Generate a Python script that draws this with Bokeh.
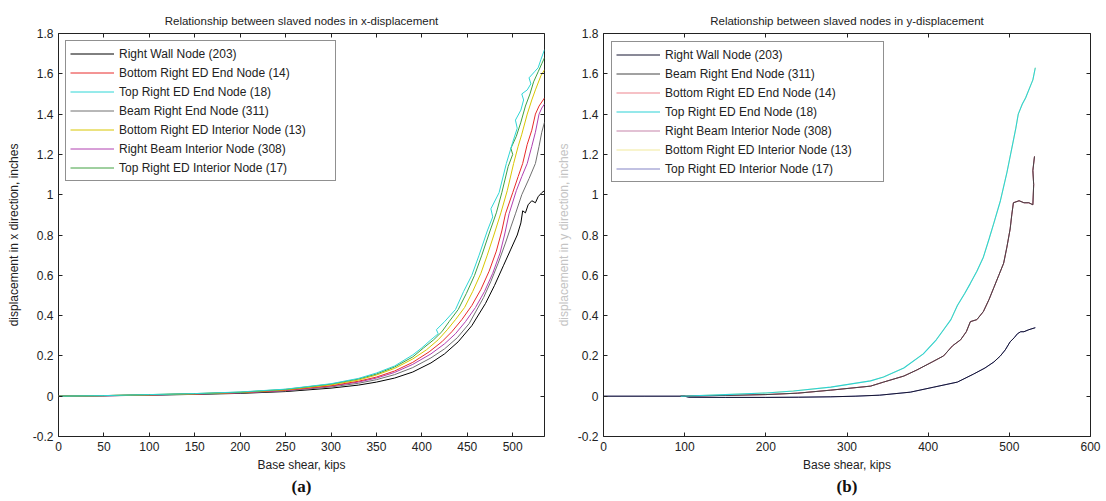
from bokeh.plotting import figure
from bokeh.layouts import row
from bokeh.models import (Range1d, LinearAxis, FixedTicker, CustomJSTickFormatter,
                          Legend, LegendItem, Title)
from bokeh.embed import file_html
from bokeh.resources import INLINE

# ---------------- data: x-displacement (a) ----------------
XD_203_X = [0, 50, 100, 150, 200, 250, 300, 330, 350, 370, 390, 410, 425, 440, 455, 470, 480, 490, 498, 505, 509, 511, 514, 517, 521, 525, 528, 532, 535]
XD_203_Y = [0, 0.002, 0.005, 0.009, 0.014, 0.023, 0.04, 0.055, 0.07, 0.09, 0.12, 0.165, 0.21, 0.27, 0.35, 0.46, 0.55, 0.65, 0.73, 0.80, 0.86, 0.92, 0.91, 0.95, 0.97, 0.96, 0.99, 1.01, 1.02]

XD_14_X = [0, 50, 100, 150, 200, 250, 300, 330, 350, 370, 390, 408, 422, 433, 444, 455, 465, 474, 482, 488, 492, 500, 506, 511, 516, 521, 525, 529, 532, 535]
XD_14_Y = [0, 0.003, 0.007, 0.011, 0.018, 0.03, 0.052, 0.074, 0.095, 0.125, 0.168, 0.22, 0.27, 0.32, 0.38, 0.45, 0.53, 0.62, 0.72, 0.82, 0.905, 1.01, 1.09, 1.155, 1.25, 1.32, 1.40, 1.44, 1.46, 1.48]

XD_18_X = [0, 50, 100, 150, 200, 250, 300, 330, 350, 370, 390, 400, 410, 418, 416, 425, 437, 446, 455, 463, 472, 478, 476, 485, 493, 500, 505, 503, 509, 512, 510, 516, 520, 518, 524, 528, 531, 535]
XD_18_Y = [0, 0.003, 0.008, 0.013, 0.021, 0.035, 0.062, 0.088, 0.115, 0.15, 0.205, 0.24, 0.28, 0.31, 0.33, 0.37, 0.43, 0.52, 0.60, 0.70, 0.82, 0.89, 0.93, 1.01, 1.155, 1.26, 1.33, 1.37, 1.42, 1.47, 1.50, 1.52, 1.55, 1.58, 1.61, 1.63, 1.67, 1.72]

XD_311_X = [0, 50, 100, 150, 200, 250, 300, 330, 350, 370, 390, 410, 425, 439, 452, 468, 476, 484, 492, 498, 503, 510, 518, 525, 529, 532, 535]
XD_311_Y = [0, 0.002, 0.006, 0.01, 0.016, 0.026, 0.046, 0.064, 0.082, 0.107, 0.142, 0.19, 0.235, 0.29, 0.36, 0.49, 0.57, 0.66, 0.76, 0.84, 0.905, 1.0, 1.08, 1.155, 1.24, 1.31, 1.36]

XD_13_X = [0, 50, 100, 150, 200, 250, 300, 330, 350, 370, 390, 405, 418, 428, 437, 447, 456, 465, 472, 480, 487, 494, 501, 506, 510, 516, 521, 525, 531, 535]
XD_13_Y = [0, 0.003, 0.007, 0.012, 0.019, 0.032, 0.056, 0.08, 0.105, 0.138, 0.185, 0.23, 0.28, 0.33, 0.38, 0.44, 0.52, 0.61, 0.70, 0.81, 0.91, 1.02, 1.155, 1.24, 1.30, 1.40, 1.47, 1.52, 1.59, 1.62]

XD_308_X = [0, 50, 100, 150, 200, 250, 300, 330, 350, 370, 390, 410, 425, 437, 448, 459, 469, 478, 486, 491, 496, 504, 510, 516, 521, 525, 529, 532, 535]
XD_308_Y = [0, 0.002, 0.006, 0.011, 0.017, 0.028, 0.05, 0.07, 0.09, 0.118, 0.158, 0.21, 0.26, 0.31, 0.37, 0.44, 0.52, 0.61, 0.71, 0.80, 0.905, 1.02, 1.09, 1.155, 1.24, 1.31, 1.40, 1.43, 1.45]

XD_17_X = [0, 50, 100, 150, 200, 250, 300, 330, 350, 370, 390, 402, 413, 422, 430, 440, 449, 458, 466, 475, 482, 488, 495, 500, 498, 504, 509, 514, 519, 523, 528, 532, 535]
XD_17_Y = [0, 0.003, 0.008, 0.013, 0.02, 0.034, 0.06, 0.085, 0.11, 0.145, 0.195, 0.24, 0.28, 0.32, 0.37, 0.43, 0.51, 0.60, 0.70, 0.82, 0.91, 1.01, 1.14, 1.20, 1.23, 1.29, 1.36, 1.44, 1.50, 1.56, 1.61, 1.65, 1.68]

# ---------------- data: y-displacement (b) ----------------
YD_203_X = [0, 50, 100, 105, 150, 200, 240, 280, 310, 340, 378, 407, 436, 456, 470, 481, 489, 495, 501, 506, 510, 514, 518, 524, 532]
YD_203_Y = [0, 0, 0, -0.005, -0.006, -0.006, -0.005, -0.003, 0, 0.005, 0.02, 0.045, 0.07, 0.11, 0.14, 0.17, 0.20, 0.23, 0.27, 0.29, 0.31, 0.32, 0.32, 0.33, 0.34]

YD_311_X = [95, 150, 200, 239, 280, 329, 345, 370, 386, 405, 419, 430, 440, 447, 452, 460, 468, 475, 481, 487, 493, 497, 501, 503, 505, 512, 518, 524, 529, 530, 529, 531]
YD_311_Y = [0, 0.004, 0.008, 0.015, 0.03, 0.05, 0.07, 0.10, 0.13, 0.17, 0.20, 0.25, 0.28, 0.32, 0.37, 0.38, 0.42, 0.48, 0.54, 0.60, 0.66, 0.74, 0.83, 0.90, 0.96, 0.97, 0.96, 0.96, 0.95, 1.05, 1.12, 1.19]

YD_18_X = [95, 150, 200, 234, 280, 329, 345, 370, 394, 410, 419, 428, 436, 445, 452, 460, 468, 475, 481, 489, 497, 505, 508, 511, 516, 520, 526, 529, 532]
YD_18_Y = [0, 0.008, 0.016, 0.026, 0.045, 0.076, 0.095, 0.14, 0.21, 0.28, 0.33, 0.38, 0.45, 0.51, 0.56, 0.62, 0.69, 0.78, 0.86, 0.97, 1.11, 1.27, 1.33, 1.40, 1.45, 1.48, 1.54, 1.57, 1.63]

# ---------------- labels / ticks ----------------
LEFT_NAMES = ["Right Wall Node (203)", "Bottom Right ED End Node (14)", "Top Right ED End Node (18)",
              "Beam Right End Node (311)", "Bottom Right ED Interior Node (13)",
              "Right Beam Interior Node (308)", "Top Right ED Interior Node (17)"]
RIGHT_NAMES = ["Right Wall Node (203)", "Beam Right End Node (311)", "Bottom Right ED End Node (14)",
               "Top Right ED End Node (18)", "Right Beam Interior Node (308)",
               "Bottom Right ED Interior Node (13)", "Top Right ED Interior Node (17)"]
Y_TICKS = [-0.2, 0, 0.2, 0.4, 0.6, 0.8, 1.0, 1.2, 1.4, 1.6, 1.8]
XA_TICKS = [0, 50, 100, 150, 200, 250, 300, 350, 400, 450, 500]
XB_TICKS = [0, 100, 200, 300, 400, 500, 600]

FONT = "Liberation Sans"
TXT = "#222222"


def make_fig(width, bl, br, bb, title, ylabel, xmax, xticks, ylab_color, ylab_standoff, caption):
    p = figure(width=width, height=501, output_backend="svg", toolbar_location=None,
               x_range=Range1d(0, xmax), y_range=Range1d(-0.2, 1.8),
               min_border_left=bl, min_border_right=br, min_border_top=33, min_border_bottom=bb)
    p.title.text = title
    p.title.align = "center"
    p.title.text_font = FONT
    p.title.text_font_size = "11.5px"
    p.title.text_font_style = "normal"
    p.title.text_color = TXT
    p.title.standoff = 14
    p.grid.visible = False
    p.outline_line_color = "#222222"
    p.outline_line_width = 1
    p.background_fill_color = "white"
    p.border_fill_color = "white"

    yfmt = CustomJSTickFormatter(code="return String(Math.round(tick*10)/10)")
    p.xaxis.ticker = FixedTicker(ticks=xticks)
    p.yaxis.ticker = FixedTicker(ticks=Y_TICKS)
    p.yaxis.formatter = yfmt
    for ax in (p.xaxis[0], p.yaxis[0]):
        ax.major_tick_in = 4
        ax.major_tick_out = 0
        ax.minor_tick_in = 0
        ax.minor_tick_out = 0
        ax.axis_line_color = None
        ax.major_tick_line_color = "#222222"
        ax.major_label_text_font = FONT
        ax.major_label_text_font_size = "12px"
        ax.major_label_text_color = TXT
        ax.axis_label_text_font = FONT
        ax.axis_label_text_font_size = "12px"
        ax.axis_label_text_font_style = "normal"
        ax.axis_label_text_color = TXT
        ax.major_label_standoff = 5
    p.xaxis.axis_label = "Base shear, kips"
    p.xaxis.axis_label_standoff = 4
    p.yaxis.axis_label = ylabel
    p.yaxis.axis_label_standoff = ylab_standoff
    p.yaxis.axis_label_text_color = ylab_color

    # tick marks only (no labels) on the top and right edges of the box
    for loc, tk in (("above", xticks), ("right", Y_TICKS)):
        ax = LinearAxis(ticker=FixedTicker(ticks=tk), major_label_text_font_size="0px",
                        major_label_text_color=None,
                        major_tick_in=4, major_tick_out=0, minor_tick_in=0, minor_tick_out=0,
                        axis_line_color=None, major_label_standoff=0,
                        major_tick_line_color="#222222")
        p.add_layout(ax, loc)
    p.add_layout(Title(text=caption, align="center", text_font="Liberation Serif",
                       text_font_size="17px", text_font_style="bold", text_color="#111111",
                       standoff=0), "below")
    return p


def style_legend(leg, label_width, margin):
    leg.location = "top_left"
    leg.margin = margin
    leg.border_line_color = "#222222"
    leg.border_line_width = 1
    leg.background_fill_color = "white"
    leg.background_fill_alpha = 1
    leg.label_text_font = FONT
    leg.label_text_font_size = "12px"
    leg.label_text_color = TXT
    leg.glyph_width = 44
    leg.glyph_height = 17
    leg.label_height = 17
    leg.label_width = label_width
    leg.label_standoff = 5
    leg.spacing = 2
    leg.padding = 4


# ---------------- panel (a) ----------------
pa = make_fig(553, 58, 9, 65, "Relationship between slaved nodes in x-displacement",
              "displacement in x direction, inches", 535, XA_TICKS, TXT, 9, "(a)")
left_series = [
    (XD_203_X, XD_203_Y, "#000000"),
    (XD_14_X, XD_14_Y, "#e82a2a"),
    (XD_18_X, XD_18_Y, "#2ed6d6"),
    (XD_311_X, XD_311_Y, "#707070"),
    (XD_13_X, XD_13_Y, "#d8c600"),
    (XD_308_X, XD_308_Y, "#b040b0"),
    (XD_17_X, XD_17_Y, "#40a040"),
]
draw_order = [0, 3, 5, 1, 4, 6, 2]
rend_a = [None] * 7
for i in draw_order:
    xs, ys, c = left_series[i]
    rend_a[i] = pa.line(xs, ys, line_color=c, line_width=1)
leg_a = Legend(items=[LegendItem(label=LEFT_NAMES[i], renderers=[rend_a[i]]) for i in range(7)])
style_legend(leg_a, 212, 7)
pa.add_layout(leg_a)

# ---------------- panel (b) ----------------
pb = make_fig(553, 50, 16, 63, "Relationship between slaved nodes in y-displacement",
              "displacement in y direction, inches", 600, XB_TICKS, "#c4c4c4", 4, "(b)")
# series that coincide with the visible curves in the figure are drawn first, thin
r14 = pb.line(YD_311_X, YD_311_Y, line_color="#e03040", line_width=0.6)
r308 = pb.line(YD_311_X, YD_311_Y, line_color="#a03070", line_width=0.6)
r17 = pb.line(YD_203_X, YD_203_Y, line_color="#3030a0", line_width=0.6)
r13 = pb.line(YD_18_X, YD_18_Y, line_color="#d8c600", line_width=0.4)
r203 = pb.line(YD_203_X, YD_203_Y, line_color="#141430", line_width=1)
r311 = pb.line(YD_311_X, YD_311_Y, line_color="#444444", line_width=1)
r18 = pb.line(YD_18_X, YD_18_Y, line_color="#2cd2d6", line_width=1.1)
rend_b = [r203, r311, r14, r18, r308, r13, r17]
leg_b = Legend(items=[LegendItem(label=RIGHT_NAMES[i], renderers=[rend_b[i]]) for i in range(7)])
style_legend(leg_b, 214, 8)
pb.add_layout(leg_b)

layout = row(pa, pb)
open("out.html", "w").write(file_html(layout, INLINE))
